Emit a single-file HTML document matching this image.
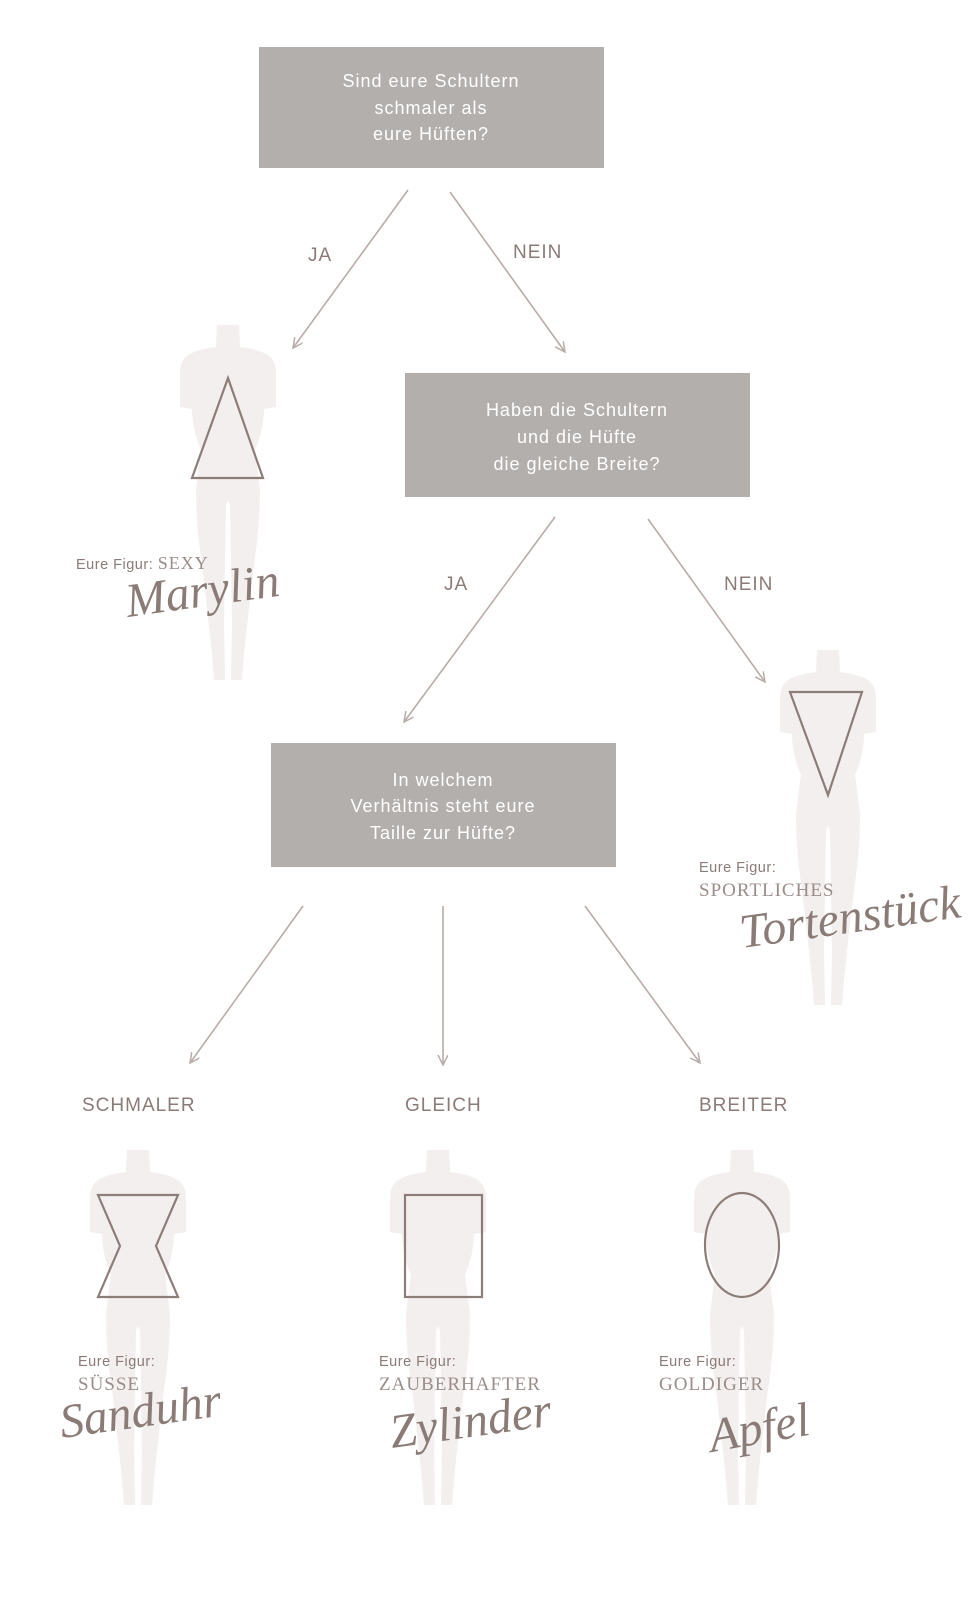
<!DOCTYPE html>
<html><head><meta charset="utf-8"><style>
html,body{margin:0;padding:0;background:#fff;overflow:hidden;width:980px;height:1600px}
svg{display:block}
.q{font-family:"Liberation Sans",sans-serif;font-size:18px;fill:#fff;letter-spacing:1px}
.l{font-family:"Liberation Sans",sans-serif;font-size:19px;fill:#8a7b77;letter-spacing:1px}
.s{font-family:"Liberation Sans",sans-serif;font-size:14.5px;fill:#8a7b77;letter-spacing:.5px}
.r{font-family:"Liberation Serif",serif;font-size:19px;fill:#9a8d89;letter-spacing:1px}
.c{font-family:"Liberation Serif",serif;font-style:italic;font-size:48px;fill:#8a7b77}
</style></head><body>
<svg width="980" height="1600" viewBox="0 0 980 1600" xmlns="http://www.w3.org/2000/svg">
<defs>
<symbol id="b" overflow="visible">
<path fill="#f3efee" d="M-11,0 L11,0 L12,22 Q30,24 40,30 Q48,36 48,48 L48,82 L36,84 Q36,104 27,125 Q30,145 32,165 Q32,200 26,240 Q20,290 16,330 L14,355 L3,355 L4,300 Q3,230 2,180 L0,176 L-2,180 Q-3,230 -4,300 L-3,355 L-14,355 L-16,330 Q-20,290 -26,240 Q-32,200 -32,165 Q-30,145 -27,125 Q-36,104 -36,84 L-48,82 L-48,48 Q-48,36 -40,30 Q-30,24 -12,22 Z"/>
</symbol>
<marker id="a" markerWidth="12" markerHeight="12" refX="10" refY="5" orient="auto" markerUnits="userSpaceOnUse"><path d="M0,0 L10,5 L0,10" fill="none" stroke="#b8aca8" stroke-width="1.5"/></marker>
</defs>
<g stroke="#b8aca8" stroke-width="1.6" marker-end="url(#a)">
<line x1="408" y1="190" x2="293" y2="348"/>
<line x1="450" y1="192" x2="565" y2="352"/>
<line x1="555" y1="517" x2="404" y2="722"/>
<line x1="648" y1="519" x2="765" y2="682"/>
<line x1="303" y1="906" x2="190" y2="1063"/>
<line x1="443" y1="906" x2="443" y2="1065"/>
<line x1="585" y1="906" x2="700" y2="1063"/>
</g>
<rect x="259" y="47" width="345" height="121" fill="#b3afad"/>
<rect x="405" y="373" width="345" height="124" fill="#b3afad"/>
<rect x="271" y="743" width="345" height="124" fill="#b3afad"/>
<g class="q" text-anchor="middle">
<text x="431" y="87">Sind eure Schultern</text><text x="431" y="114">schmaler als</text><text x="431" y="140">eure Hüften?</text>
<text x="577" y="416">Haben die Schultern</text><text x="577" y="443">und die Hüfte</text><text x="577" y="470">die gleiche Breite?</text>
<text x="443" y="786">In welchem</text><text x="443" y="812">Verhältnis steht eure</text><text x="443" y="839">Taille zur Hüfte?</text>
</g>
<g class="l">
<text x="308" y="261">JA</text><text x="513" y="258">NEIN</text>
<text x="444" y="590">JA</text><text x="724" y="590">NEIN</text>
<text x="82" y="1111">SCHMALER</text><text x="405" y="1111">GLEICH</text><text x="699" y="1111">BREITER</text>
</g>
<use href="#b" x="228" y="325"/>
<use href="#b" x="828" y="650"/>
<use href="#b" x="138" y="1150"/>
<use href="#b" x="438" y="1150"/>
<use href="#b" x="742" y="1150"/>
<g fill="none" stroke="#8c7d78" stroke-width="2.2">
<polygon points="228,378 192,478 263,478"/>
<polygon points="790,692 862,692 828,795"/>
<polygon points="98,1195 178,1195 156,1246 178,1297 98,1297 120,1246"/>
<rect x="405" y="1195" width="77" height="102"/>
<ellipse cx="742" cy="1245" rx="37" ry="52"/>
</g>
<text class="s" x="76" y="569">Eure Figur: <tspan class="r" style="font-size:18px">SEXY</tspan></text>
<text class="c" x="128" y="617" transform="rotate(-8 128 617)">Marylin</text>
<text class="s" x="699" y="872">Eure Figur:</text>
<text class="r" x="699" y="896">SPORTLICHES</text>
<text class="c" x="742" y="948" transform="rotate(-8 742 948)">Tortenstück</text>
<text class="s" x="78" y="1366">Eure Figur:</text>
<text class="r" x="78" y="1390">SÜSSE</text>
<text class="c" x="62" y="1438" transform="rotate(-8 62 1438)">Sanduhr</text>
<text class="s" x="379" y="1366">Eure Figur:</text>
<text class="r" x="379" y="1390">ZAUBERHAFTER</text>
<text class="c" x="392" y="1448" transform="rotate(-8 392 1448)">Zylinder</text>
<text class="s" x="659" y="1366">Eure Figur:</text>
<text class="r" x="659" y="1390">GOLDIGER</text>
<text class="c" x="712" y="1452" transform="rotate(-10 712 1452)">Apfel</text>
</svg>
</body></html>
